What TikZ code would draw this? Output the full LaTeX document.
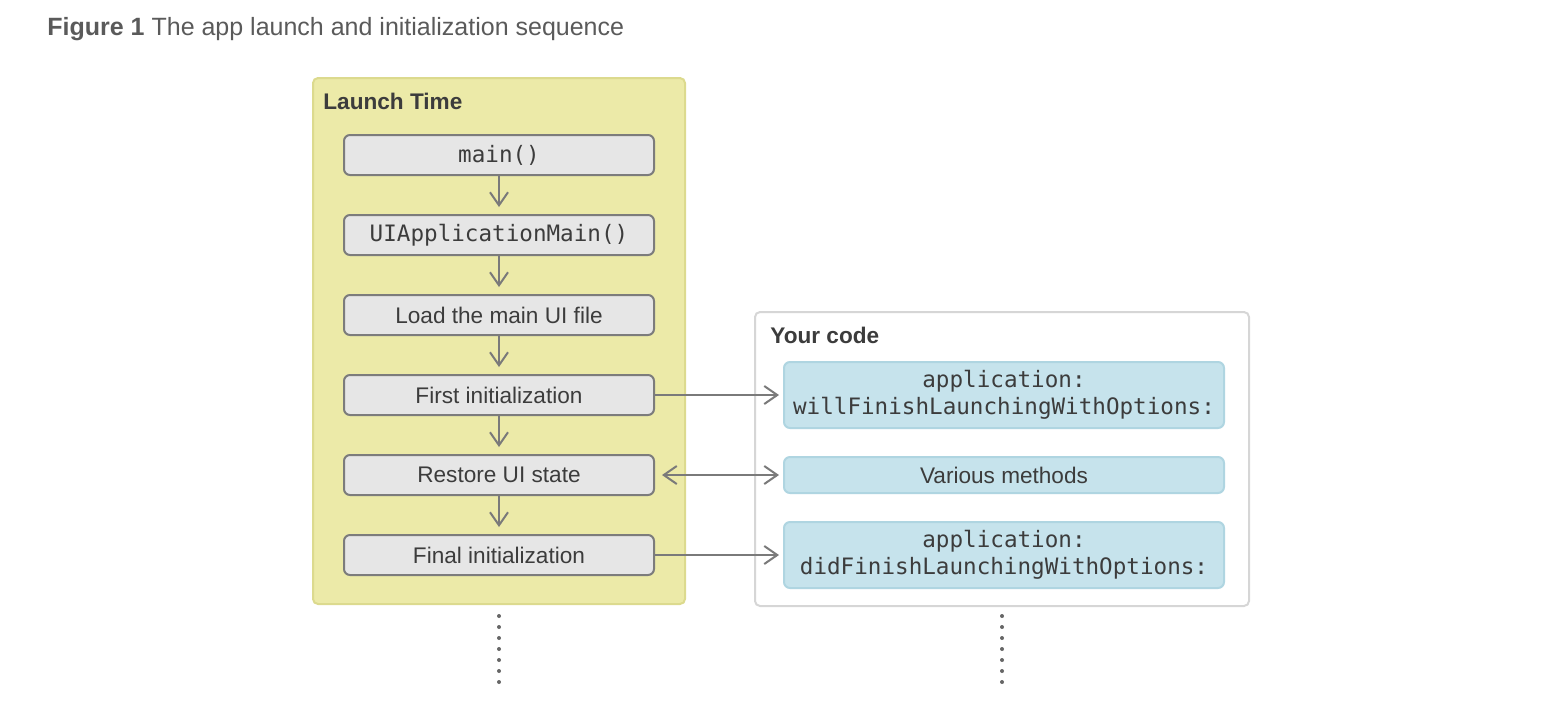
\documentclass[tikz,border=0pt]{standalone}
\usepackage{fontspec}
\setmainfont{Liberation Sans}
\setmonofont{DejaVu Sans Mono}
\usetikzlibrary{arrows.meta}
\usetikzlibrary{positioning}

\definecolor{launchyellow}{HTML}{ECEAA8}
\definecolor{launchborder}{HTML}{DCDA8E}
\definecolor{stepgray}{HTML}{E6E6E6}
\definecolor{stepborder}{HTML}{7C7C7C}
\definecolor{codeblue}{HTML}{C6E3EC}
\definecolor{codeborder}{HTML}{AFD5E1}
\definecolor{codeframe}{HTML}{D6D6D6}
\definecolor{arrowgray}{HTML}{7A7A7A}
\definecolor{textgray}{HTML}{3C3C3C}
\definecolor{titlegray}{HTML}{5A5A5A}

\newcommand{\basesize}{\fontsize{11.3}{13.5}\selectfont}

\begin{document}
\begin{tikzpicture}[x=0.5pt, y=-0.5pt,
    framebox/.style={rectangle, rounded corners=2.5pt, line width=1pt, inner sep=0pt},
    stepnode/.style={rectangle, draw=stepborder, fill=stepgray, line width=1pt, rounded corners=3pt, minimum width=155pt, minimum height=20pt, inner sep=0pt, text=textgray, font=\basesize},
    codenode/.style={rectangle, draw=codeborder, fill=codeblue, line width=1pt, rounded corners=3pt, minimum width=220pt, inner sep=0pt, align=center, text=textgray, font=\basesize\ttfamily},
    heading/.style={anchor=west, inner sep=0pt, text=textgray, font=\basesize\bfseries},
    flow/.style={-{Straight Barb[length=6.5pt, width=9pt]}, line width=1pt, draw=arrowgray},
    flowboth/.style={{Straight Barb[length=6.5pt, width=9pt]}-{Straight Barb[length=6.5pt, width=9pt]}, line width=1pt, draw=arrowgray},
    dotline/.style={line width=2pt, line cap=round, dash pattern=on 0pt off 5.5pt, draw=black!60}]
    \useasboundingbox (0,0) rectangle (1558,714);

    % Title
    \node[anchor=west, inner sep=0pt, text=titlegray, font=\fontsize{12.5}{15}\selectfont] (title) at (47,29) {\textbf{Figure 1} The app launch and initialization sequence};

    % Frames
    \node[framebox, draw=launchborder, fill=launchyellow, minimum width=186pt, minimum height=263pt] (launch) at (499,341) {};
    \node[heading] (launchlabel) at (323,101) {Launch Time};
    \node[framebox, draw=codeframe, fill=white, minimum width=247pt, minimum height=147pt] (code) at (1002,459) {};
    \node[heading] (codelabel) at (770,335) {Your code};

    % Launch steps
    \node[stepnode, font=\basesize\ttfamily] (main) at (499,155) {main()};
    \node[stepnode, font=\basesize\ttfamily] (uimain) [below=19pt of main] {UIApplicationMain()};
    \node[stepnode] (loadui) [below=19pt of uimain] {Load the main UI file};
    \node[stepnode] (firstinit) [below=19pt of loadui] {First initialization};
    \node[stepnode] (restore) [below=19pt of firstinit] {Restore UI state};
    \node[stepnode] (finalinit) [below=19pt of restore] {Final initialization};

    \draw[flow, shorten >=3.5pt] (main) -- (uimain);
    \draw[flow, shorten >=3.5pt] (uimain) -- (loadui);
    \draw[flow, shorten >=3.5pt] (loadui) -- (firstinit);
    \draw[flow, shorten >=3.5pt] (firstinit) -- (restore);
    \draw[flow, shorten >=3.5pt] (restore) -- (finalinit);

    % Your code
    \node[codenode, minimum height=33pt] (willfinish) [right=64pt of firstinit] {application:\\willFinishLaunchingWithOptions:};
    \node[codenode, minimum height=18pt, font=\basesize] (various) [right=64pt of restore] {Various methods};
    \node[codenode, minimum height=33pt] (didfinish) [right=64pt of finalinit] {application:\\didFinishLaunchingWithOptions:};

    \draw[flow, shorten >=2pt] (firstinit) -- (willfinish);
    \draw[flowboth, shorten <=3.5pt, shorten >=2pt] (restore) -- (various);
    \draw[flow, shorten >=2pt] (finalinit) -- (didfinish);

    % Continues
    \coordinate (launchend) at (499,685);
    \coordinate (codeend) at (1002,687);
    \draw[dotline] ([yshift=-5.5pt]launch.south) -- (launchend);
    \draw[dotline] ([yshift=-4.5pt]code.south) -- (codeend);
\end{tikzpicture}
\end{document}
